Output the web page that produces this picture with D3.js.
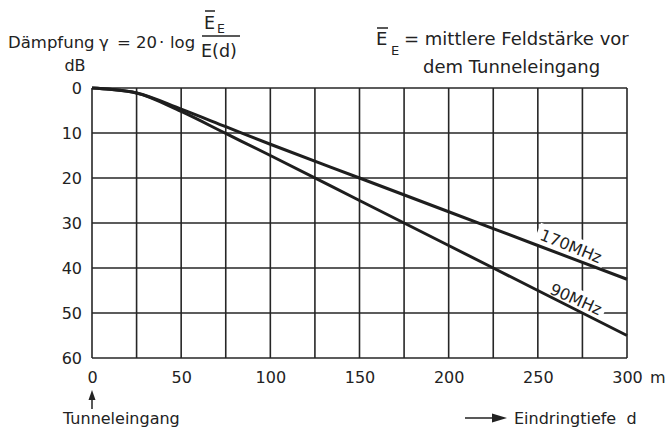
<!DOCTYPE html>
<html><head><meta charset="utf-8">
<script src="https://cdn.jsdelivr.net/npm/d3@7"></script>
<style>
html,body{margin:0;padding:0;background:#fff;}
svg{display:block;font-family:"DejaVu Sans",sans-serif;fill:#222;}
</style></head>
<body>
<script>
// ---- data ----
const depths = [0, 10, 25, 50, 75, 100, 150, 200, 250, 300];
const att170 = [0, 0.3, 1.1, 4.7, 8.6, 12.5, 20, 27.5, 35, 42.5];
const att90  = [0, 0.3, 1.1, 5.2, 10.1, 15, 25, 35, 45, 55];
const xTickLabels = [0, 50, 100, 150, 200, 250, 300];
const yTickLabels = [0, 10, 20, 30, 40, 50, 60];
const xGrid = d3.range(0, 301, 25);
const seriesNames = ["170MHz", "90MHz"];

const W = 670, H = 435;
const svg = d3.select("body").append("svg").attr("width", W).attr("height", H);
svg.append("rect").attr("width", W).attr("height", H).attr("fill", "#fff");

const x = d3.scaleLinear().domain([0, 300]).range([92, 627]);
const y = d3.scaleLinear().domain([0, 60]).range([88, 358]);
const ink = "#262626";

// grid
const g = svg.append("g");
g.selectAll(".vg").data(xGrid).join("line")
  .attr("x1", d => x(d)).attr("x2", d => x(d))
  .attr("y1", y(0)).attr("y2", y(60))
  .attr("stroke", ink).attr("stroke-width", 1.6);
g.selectAll(".hg").data(d3.range(0, 61, 10)).join("line")
  .attr("x1", x(0)).attr("x2", x(300))
  .attr("y1", d => y(d)).attr("y2", d => y(d))
  .attr("stroke", ink).attr("stroke-width", 1.6);

// axes labels via d3 axes (styled)
const xAxis = d3.axisBottom(x).tickValues(xTickLabels).tickSize(0).tickPadding(0).tickFormat(d3.format("d"));
const xa = svg.append("g").attr("transform", `translate(0,${y(60)})`).call(xAxis);
xa.select(".domain").remove();
xa.selectAll("text").attr("font-size", 16).attr("font-family", "DejaVu Sans").attr("fill", "#222")
  .attr("y", 25).attr("dy", 0);
const yAxis = d3.axisLeft(y).tickValues(yTickLabels).tickSize(0).tickPadding(0).tickFormat(d3.format("d"));
const ya = svg.append("g").attr("transform", `translate(82,0)`).call(yAxis);
ya.select(".domain").remove();
ya.selectAll("text").attr("font-size", 16).attr("font-family", "DejaVu Sans").attr("fill", "#222")
  .attr("x", 0).attr("dy", "0.36em");

svg.append("text").attr("x", 650).attr("y", 383).attr("font-size", 16).text("m");
svg.append("text").attr("x", 75).attr("y", 71).attr("font-size", 16).attr("text-anchor", "middle").text("dB");

// series labels with white masks
function label(txt, cx, cy, ang) {
  const lg = svg.append("g").attr("transform", `translate(${cx},${cy}) rotate(${ang})`);
  const t = lg.append("text").attr("font-size", 16).attr("text-anchor", "middle")
    .attr("dy", "0.36em").text(txt);
  const bb = t.node().getBBox();
  lg.insert("rect", "text").attr("x", bb.x - 4).attr("y", bb.y - 1)
    .attr("width", bb.width + 8).attr("height", bb.height + 2).attr("fill", "#fff");
}
label(seriesNames[0], 571, 246, 22);
label(seriesNames[1], 576, 299, 24);

// curves
const line = d3.line().curve(d3.curveMonotoneX);
[att170, att90].forEach(arr => {
  svg.append("path")
    .attr("d", line(depths.map((d, i) => [x(d), y(arr[i])])))
    .attr("fill", "none").attr("stroke", "#1e1e1e").attr("stroke-width", 3);
});

// top-left formula
const tl = svg.append("g").attr("font-size", 16.5);
tl.append("text").attr("x", 8).attr("y", 48).text("Dämpfung");
tl.append("text").attr("x", 99).attr("y", 48).text("γ");
tl.append("text").attr("x", 117).attr("y", 48).text("=");
tl.append("text").attr("x", 136).attr("y", 48).text("20");
tl.append("text").attr("x", 159).attr("y", 48).text("·");
tl.append("text").attr("x", 170).attr("y", 48).text("log");
tl.append("text").attr("x", 204).attr("y", 29).attr("font-size", 17.5).text("E");
tl.append("line").attr("x1", 205).attr("x2", 215).attr("y1", 11).attr("y2", 11).attr("stroke", "#222").attr("stroke-width", 1.5);
tl.append("text").attr("x", 217).attr("y", 33).attr("font-size", 12.5).text("E");
tl.append("line").attr("x1", 202).attr("x2", 240).attr("y1", 36).attr("y2", 36).attr("stroke", "#222").attr("stroke-width", 1.5);
tl.append("text").attr("x", 201).attr("y", 57).attr("font-size", 17.5).text("E(d)");

// top-right note
const tr = svg.append("g").attr("font-size", 18);
tr.append("text").attr("x", 376).attr("y", 45).text("E");
tr.append("line").attr("x1", 377).attr("x2", 388).attr("y1", 28).attr("y2", 28).attr("stroke", "#222").attr("stroke-width", 1.5);
tr.append("text").attr("x", 391).attr("y", 55).attr("font-size", 13).text("E");
tr.append("text").attr("x", 404).attr("y", 45).text("= mittlere Feldstärke vor");
tr.append("text").attr("x", 423).attr("y", 73).text("dem Tunneleingang");

// bottom annotations
svg.append("line").attr("x1", x(0)).attr("x2", x(0)).attr("y1", 396).attr("y2", 409).attr("stroke", "#222").attr("stroke-width", 1.5);
svg.append("path").attr("d", `M${x(0)},390 L${x(0)-3.5},400 L${x(0)+3.5},400 Z`).attr("fill", "#222");
svg.append("text").attr("x", 63).attr("y", 424).attr("font-size", 16).text("Tunneleingang");
svg.append("line").attr("x1", 465).attr("x2", 495).attr("y1", 418).attr("y2", 418).attr("stroke", "#222").attr("stroke-width", 1.5);
svg.append("path").attr("d", "M507,418 L492,413.5 L492,422.5 Z").attr("fill", "#222");
svg.append("text").attr("x", 514).attr("y", 424).attr("font-size", 16).attr("xml:space", "preserve").text("Eindringtiefe  d");
</script>
</body></html>
